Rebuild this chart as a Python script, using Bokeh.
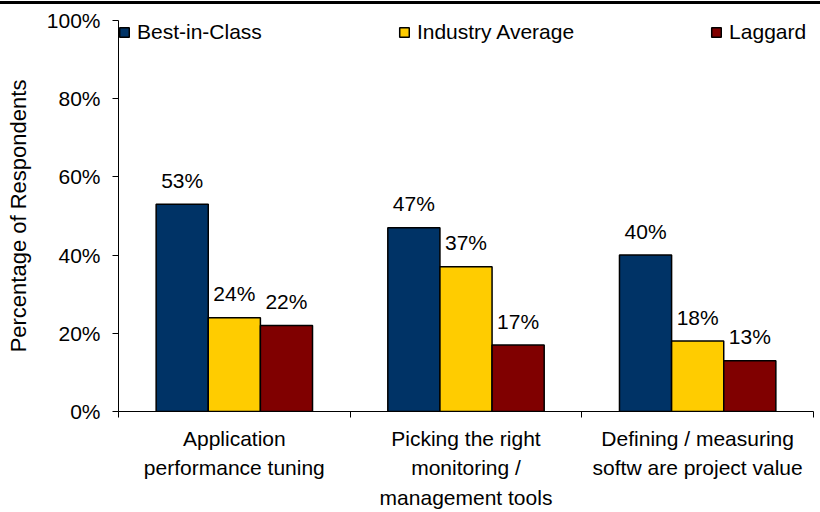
from bokeh.plotting import figure
from bokeh.layouts import column
from bokeh.models import (Range1d, LinearAxis, FixedTicker, Div,
                          CustomJSTickFormatter, ColumnDataSource)
from bokeh.transform import dodge
from bokeh.core.properties import value
from bokeh.embed import file_html
from bokeh.resources import INLINE

categories = ["Application\nperformance tuning",
              "Picking the right\nmonitoring /\nmanagement tools",
              "Defining / measuring\nsoftw are project value"]
series_names = ["Best-in-Class", "Industry Average", "Laggard"]
best_in_class = [53, 47, 40]
industry_average = [24, 37, 18]
laggard = [22, 17, 13]
y_ticks = [0, 20, 40, 60, 80, 100]

colors = ["#003366", "#FFCC00", "#800000"]
FONT = "Liberation Sans"
FS = "21px"

series = [best_in_class, industry_average, laggard]
n = len(categories)
centers = [i + 0.5 for i in range(n)]
bar_w = 0.225
offsets = [-bar_w, 0.0, bar_w]

p = figure(width=820, height=508, x_range=Range1d(0, n),
           y_range=Range1d(0, 100), output_backend="svg", toolbar_location=None,
           x_axis_location=None, y_axis_location=None,
           min_border_left=118, min_border_right=7, min_border_top=16, min_border_bottom=101)
p.outline_line_color = None
p.xgrid.visible = False
p.ygrid.visible = False
p.background_fill_color = "white"
p.border_fill_color = "white"

for name, vals, col, off in zip(series_names, series, colors, offsets):
    src = ColumnDataSource(dict(xc=centers, val=vals,
                                lab=[f"{v}%" for v in vals]))
    p.vbar(x=dodge("xc", off), top="val", width=bar_w, source=src,
           fill_color=col, line_color="black", line_width=1.5, legend_label=name)
    p.text(x=dodge("xc", off), y="val", text="lab", source=src,
           text_align="center", text_baseline="alphabetic", y_offset=-24,
           text_font=value(FONT), text_font_size=FS, text_color="black")

# y axis
yaxis = LinearAxis(ticker=FixedTicker(ticks=y_ticks),
                   formatter=CustomJSTickFormatter(code="return tick + '%';"))
yaxis.axis_label = "Percentage of Respondents"
yaxis.axis_label_text_font = FONT
yaxis.axis_label_text_font_size = "22px"
yaxis.axis_label_text_font_style = "normal"
yaxis.axis_label_text_color = "black"
yaxis.axis_label_standoff = 13
yaxis.major_label_text_font = FONT
yaxis.major_label_text_font_size = FS
yaxis.major_label_text_color = "black"
yaxis.major_label_standoff = 12
yaxis.major_tick_in = 0
yaxis.major_tick_out = 6
yaxis.minor_tick_line_color = None
yaxis.axis_line_color = "black"
yaxis.major_tick_line_color = "black"
p.add_layout(yaxis, "left")

# x axis: category labels at centers, boundary ticks as minor ticks
xaxis = LinearAxis(ticker=FixedTicker(ticks=centers, minor_ticks=list(range(n + 1))),
                   formatter=CustomJSTickFormatter(args=dict(labels=categories),
                                                   code="return labels[Math.floor(tick)];"))
xaxis.axis_line_color = "black"
xaxis.major_tick_line_color = None
xaxis.major_tick_out = 0
xaxis.major_tick_in = 0
xaxis.minor_tick_line_color = "black"
xaxis.minor_tick_out = 6
xaxis.minor_tick_in = 0
xaxis.major_label_standoff = 9
xaxis.major_label_text_font = FONT
xaxis.major_label_text_font_size = FS
xaxis.major_label_text_color = "black"
xaxis.major_label_text_line_height = 1.3
p.add_layout(xaxis, "below")

lg = p.legend[0]
lg.orientation = "horizontal"
lg.location = "top_left"
lg.margin = 0
lg.padding = 3
lg.spacing = 136
lg.glyph_width = 12
lg.glyph_height = 12
lg.label_standoff = 7
lg.label_text_font = FONT
lg.label_text_font_size = FS
lg.label_text_color = "black"
lg.label_height = 12
lg.border_line_color = None
lg.background_fill_alpha = 0

# thick rule along the top edge of the page
rule = Div(text="", width=820, height=3, margin=(1, 0, 0, 0),
           styles={"background-color": "black"})

layout = column(rule, p, spacing=0)
open("out.html", "w").write(file_html(layout, INLINE))
